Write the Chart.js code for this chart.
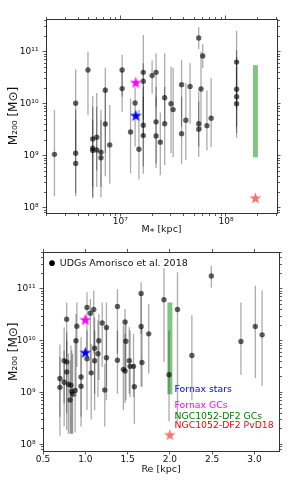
<!DOCTYPE html>
<html><head><meta charset="utf-8">
<script src="https://cdn.jsdelivr.net/npm/chart.js@4.4.1/dist/chart.umd.min.js"></script>
<style>
html,body{margin:0;padding:0;background:#fff;}
#wrap{position:relative;width:299px;height:486px;background:#fff;}
canvas{display:block;}
</style></head><body>
<div id="wrap">
<canvas id="top" width="299" height="243"></canvas>
<canvas id="bot" width="299" height="243"></canvas>
</div>
<script>
// ---------------- DATA ----------------
// Top panel: UDGs, stellar mass vs M200 (value, upper and lower end of the error bar)
const topMstar = [2.38e6, 3.78e6, 3.78e6, 3.78e6, 4.94e6, 5.48e6, 5.48e6, 5.48e6, 5.98e6, 5.98e6, 6.56e6, 6.56e6, 7.21e6, 7.21e6, 7.94e6, 1.04e7, 1.04e7, 1.25e7, 1.38e7, 1.50e7, 1.65e7, 1.65e7, 1.65e7, 1.65e7, 2.0e7, 2.18e7, 2.18e7, 2.18e7, 2.39e7, 2.63e7, 2.63e7, 3.02e7, 3.16e7, 3.8e7, 3.8e7, 4.17e7, 4.57e7, 5.52e7, 6.03e7, 5.8e7, 5.52e7, 5.52e7, 6.6e7, 7.24e7, 1.26e8, 1.26e8, 1.26e8, 1.26e8];
const topM200 = [1.06e9, 1.02e10, 1.11e9, 7.1e8, 4.45e10, 2.1e9, 1.39e9, 1.26e9, 2.26e9, 1.29e9, 1.16e9, 9.1e8, 1.81e10, 4.07e9, 1.61e9, 4.45e10, 1.95e10, 2.86e9, 1.03e10, 1.33e9, 4.0e10, 2.7e10, 3.85e9, 2.43e9, 3.47e10, 4.0e10, 4.47e9, 2.4e9, 1.82e9, 1.30e10, 4.12e9, 1.0e10, 7.7e9, 2.32e10, 2.65e9, 4.8e9, 2.14e10, 1.83e11, 8.3e10, 1.92e10, 4.12e9, 3.24e9, 3.78e9, 5.25e9, 6.3e10, 1.89e10, 1.36e10, 1.0e10];
const topHi = [7.6e9, 4.6e10, 7.6e9, 4.9e9, 1.0e11, 1.4e10, 8.7e9, 4.9e9, 1.6e10, 8.7e9, 7.6e9, 4.9e9, 4.9e10, 2.1e10, 9.4e9, 8.7e10, 4.4e10, 1.26e10, 2.1e10, 7.6e9, 2.1e11, 6.0e10, 2.1e10, 1.36e10, 6.8e10, 9.3e10, 2.1e10, 1.36e10, 6.8e9, 9.3e10, 2.1e10, 5.2e10, 4.9e10, 6.9e10, 1.36e10, 2.5e10, 6.0e10, 2.95e11, 1.4e11, 1.0e11, 1.7e10, 1.1e10, 1.8e10, 3.1e10, 2.5e11, 1.07e11, 8.0e10, 5.1e10];
const topLo = [1.66e8, 1.12e9, 1.66e8, 1.9e8, 6.0e9, 2.5e8, 1.5e8, 1.6e8, 5.2e8, 2.5e8, 2.5e8, 1.58e8, 1.12e9, 4.0e8, 2.9e8, 1.36e10, 7.0e9, 4.6e8, 1.5e9, 3.5e8, 4.9e9, 2.3e9, 4.5e8, 6.2e8, 1.55e10, 8.7e9, 5.8e8, 7.1e8, 4.2e8, 4.2e9, 6.6e8, 1.12e9, 9.3e8, 3.6e9, 6.9e8, 8.3e8, 4.1e9, 1.12e11, 4.8e10, 3.1e9, 1.48e9, 9.5e8, 1.26e9, 1.45e9, 7.6e9, 3.6e9, 2.7e9, 2.2e9];

// Bottom panel: UDGs, effective radius vs M200
const botRe = [0.78, 0.75, 0.78, 0.78, 0.70, 0.70, 0.75, 0.80, 0.83, 0.88, 0.84, 0.85, 0.82, 0.90, 0.89, 0.95, 0.95, 1.02, 1.06, 1.10, 1.02, 1.07, 1.11, 1.11, 1.16, 1.15, 1.20, 1.25, 1.25, 1.23, 1.38, 1.38, 1.47, 1.48, 1.45, 1.47, 1.52, 1.53, 1.57, 1.58, 1.66, 1.66, 1.67, 1.75, 1.93, 1.99, 2.09, 2.49, 2.26, 2.84, 3.01, 3.09];
const botM200 = [2.6e10, 4.1e9, 3.9e9, 2.5e9, 1.86e9, 1.26e9, 1.58e9, 1.45e9, 1.38e9, 1.1e9, 1.05e9, 9.3e8, 7.2e8, 1.9e10, 1.0e10, 2.0e9, 1.32e9, 4.4e10, 3.4e10, 4.0e10, 4.5e9, 2.4e9, 7.2e9, 4.1e9, 1.0e10, 5.6e9, 2.2e10, 1.8e10, 4.7e9, 1.12e9, 4.6e10, 4.2e9, 2.3e10, 9.8e9, 2.8e9, 2.6e9, 4.1e9, 3.2e9, 3.2e9, 1.29e9, 8.2e10, 1.88e10, 3.8e9, 1.36e10, 6.2e10, 2.2e9, 4.0e10, 1.78e11, 5.2e9, 9.7e9, 1.88e10, 1.3e10];
const botHi = [5.5e10, 1.8e10, 1.46e10, 1.0e10, 8.5e9, 4.8e9, 6.5e9, 5.6e9, 8.1e9, 1.09e10, 6.5e9, 5.6e9, 4.2e9, 5.5e10, 3.3e10, 1.17e10, 5.6e9, 8.6e10, 6.4e10, 9.3e10, 1.58e10, 8.7e9, 2.8e10, 1.58e10, 3.3e10, 2.5e10, 5.5e10, 5.5e10, 1.83e10, 3.6e9, 1.0e11, 1.58e10, 4.1e10, 2.5e10, 2.0e10, 1.36e10, 1.83e10, 1.58e10, 1.36e10, 3.6e9, 1.34e11, 8.0e10, 1.83e10, 5.1e10, 2.5e11, 1.58e10, 2.1e11, 2.8e11, 3.1e10, 5.5e10, 1.15e11, 9.3e10];
const botLo = [4.8e9, 6.2e8, 4.0e8, 1.9e8, 3.4e8, 1.46e8, 2.2e8, 1.6e8, 1.6e8, 1.7e8, 1.6e8, 1.6e8, 1.6e8, 3.1e9, 8.2e8, 3.4e8, 2.2e8, 5.6e9, 2.7e9, 5.6e9, 4.6e8, 3.0e8, 9.5e8, 4.6e8, 1.74e9, 8.2e8, 3.1e9, 1.29e9, 7.1e8, 2.2e8, 5.6e9, 9.5e8, 2.7e9, 7.1e8, 4.6e8, 6.2e8, 9.5e8, 8.2e8, 8.2e8, 2.5e8, 1.36e10, 1.29e9, 1.29e9, 2.3e9, 3.9e9, 2.8e8, 2.8e8, 1.07e11, 7.1e8, 2.2e9, 1.9e9, 1.35e9];

// Reference objects
const fornaxMstar = 1.4e7, fornaxRe = 1.0;
const fornaxStarsM200 = 5.8e9;
const fornaxGCsM200 = 2.5e10;
const df2Mstar = 1.9e8, df2Re = 2.0;
const df2GCsRange = [9.3e8, 5.5e10];
const df2PvD18M200 = 1.5e8;

// Tick values / labels
const topXTickValues = [1e7, 1e8];
const topXTickLabels = ['10\u2077', '10\u2078'];
const yTickValues = [1e8, 1e9, 1e10, 1e11];
const yTickLabels = ['10\u2078', '10\u2079', '10\u00b9\u2070', '10\u00b9\u00b9'];
const botXTickValues = [0.5, 1.0, 1.5, 2.0, 2.5, 3.0];
const botXTickLabels = ['0.5', '1.0', '1.5', '2.0', '2.5', '3.0'];

const udgLabel = 'UDGs Amorisco et al. 2018';
const noteTexts = ['Fornax stars', 'Fornax GCs', 'NGC1052-DF2 GCs', 'NGC1052-DF2 PvD18'];
const noteColors = ['#0000ff', '#ff00ff', '#008000', '#ff0000'];
const noteAnchorRe = 2.055;
const noteAnchorM200 = [1.14e9, 5.7e8, 3.5e8, 2.35e8];

// ---------------- HELPERS ----------------
const FONT = 'DejaVu Sans';
const AXIS = '#333';
const TXT = '#111';

function starImage(fill, R) {
  const s = Math.ceil(R * 2 + 4);
  const c = document.createElement('canvas');
  c.width = s; c.height = s;
  const g = c.getContext('2d');
  const cx = s / 2, cy = s / 2;
  g.beginPath();
  for (let i = 0; i < 10; i++) {
    const r = i % 2 === 0 ? R : R * 0.39;
    const a = -Math.PI / 2 + i * Math.PI / 5;
    g.lineTo(cx + r * Math.cos(a), cy + r * Math.sin(a));
  }
  g.closePath();
  g.fillStyle = fill; g.fill();
  return c;
}
const starBlue = starImage('#0000ff', 6.2);
const starMag = starImage('#ff00ff', 6.2);
const starRed = starImage('rgba(240,50,50,0.68)', 6.2);

function logTickList(min, max) {
  const t = [];
  for (let e = Math.floor(Math.log10(min)); e <= Math.ceil(Math.log10(max)); e++) {
    for (let m = 1; m <= 9; m++) {
      const v = m * Math.pow(10, e);
      if (v >= min && v <= max) t.push(v);
    }
  }
  return t;
}
const isLogMinor = v => Math.abs(Math.log10(v) - Math.round(Math.log10(v))) > 1e-6;
const never = () => false;

function gridOpts(pos, isMinor) {
  const outerStart = (pos === 'left' || pos === 'top');
  return {
    display: true, drawOnChartArea: false, drawTicks: true,
    tickLength: 3.5, tickWidth: 0.8, tickColor: AXIS,
    tickBorderDash: c => (c.tick && isMinor(c.tick.value)) ? (outerStart ? [2, 1.5] : [2, 10]) : [],
    tickBorderDashOffset: c => (c.tick && isMinor(c.tick.value) && outerStart) ? 2 : 0
  };
}

function makeAxis(o) {
  const horiz = (o.pos === 'top' || o.pos === 'bottom');
  return {
    type: o.type, position: o.pos, axis: horiz ? 'x' : 'y',
    min: o.min, max: o.max,
    afterBuildTicks: s => { s.ticks = o.ticks.map(v => ({ value: v })); },
    afterFit: s => { if (horiz) s.height = o.size; else s.width = o.size; },
    grid: gridOpts(o.pos, o.isMinor),
    border: { display: true, color: AXIS, width: 1 },
    ticks: {
      autoSkip: false, maxRotation: 0, minRotation: 0,
      padding: horiz ? 0 : 4, color: TXT,
      font: { family: FONT, size: 9 },
      callback: v => {
        if (!o.labelVals) return '';
        const k = o.labelVals.findIndex(L => Math.abs(L - v) <= 1e-9 * Math.abs(L));
        return k >= 0 ? o.labelTexts[k] : '';
      }
    },
    title: o.title ? {
      display: true, text: o.title, color: TXT,
      font: { family: FONT, size: o.titleSize || 9.5 },
      padding: o.titlePad
    } : { display: false }
  };
}

function errData(xs, lo, hi) {
  const d = [];
  xs.forEach((x, i) => { d.push({ x, y: lo[i] }, { x, y: hi[i] }, { x, y: null }); });
  return d;
}

function datasets(xs, ys, lo, hi, fx, df2x) {
  return [
    { label: 'Fornax GCs', data: [{ x: fx, y: fornaxGCsM200 }], pointStyle: starMag, pointRadius: 6, xAxisID: 'x', yAxisID: 'y' },
    { label: 'Fornax stars', data: [{ x: fx, y: fornaxStarsM200 }], pointStyle: starBlue, pointRadius: 6, xAxisID: 'x', yAxisID: 'y' },
    { label: 'NGC1052-DF2 PvD18', data: [{ x: df2x, y: df2PvD18M200 }], pointStyle: starRed, pointRadius: 6, xAxisID: 'x', yAxisID: 'y' },
    { label: udgLabel, data: xs.map((x, i) => ({ x, y: ys[i] })), pointRadius: 2.7, pointBackgroundColor: 'rgba(0,0,0,0.62)', backgroundColor: 'rgba(0,0,0,0.62)', pointBorderWidth: 0, borderWidth: 0, xAxisID: 'x', yAxisID: 'y' },
    { label: 'err', data: errData(xs, lo, hi), showLine: true, spanGaps: false, segment: {}, borderColor: 'rgba(0,0,0,0.33)', borderWidth: 1.3, pointRadius: 0, pointHoverRadius: 0, xAxisID: 'x', yAxisID: 'y' },
    { label: 'NGC1052-DF2 GCs', data: [{ x: df2x, y: df2GCsRange[0] }, { x: df2x, y: df2GCsRange[1] }], showLine: true, borderColor: 'rgba(44,160,44,0.6)', borderWidth: 5, borderCapStyle: 'butt', pointRadius: 0, pointHoverRadius: 0, xAxisID: 'x', yAxisID: 'y' }
  ];
}

const notesPlugin = {
  id: 'notes',
  afterLayout(chart) {
    // keep the legend inside the plot area, anchored at its top-left corner
    const lg = chart.legend;
    if (!lg) return;
    const dy = chart.chartArea.top - lg.top;
    lg.top += dy; lg.bottom += dy;
  },
  afterDatasetsDraw(chart) {
    const { ctx, scales } = chart;
    ctx.save();
    ctx.font = '9.3px "DejaVu Sans"';
    ctx.textAlign = 'left'; ctx.textBaseline = 'middle';
    noteTexts.forEach((t, i) => {
      ctx.fillStyle = noteColors[i];
      ctx.fillText(t, scales.x.getPixelForValue(noteAnchorRe), scales.y.getPixelForValue(noteAnchorM200[i]));
    });
    ctx.restore();
  }
};

const common = {
  responsive: false, animation: false, devicePixelRatio: 1, events: [],
  layout: { padding: 0 }
};

const yTitle = 'M\u2082\u2080\u2080 [M\u2299]';

// ---------------- TOP CHART ----------------
const tXmin = 1.98e6, tXmax = 3.04e8, tYmin = 7.9e7, tYmax = 4.25e11;
new Chart(document.getElementById('top'), {
  type: 'scatter',
  data: { datasets: datasets(topMstar, topM200, topLo, topHi, fornaxMstar, df2Mstar) },
  options: Object.assign({}, common, {
    plugins: { legend: { display: false }, tooltip: { enabled: false } },
    scales: {
      x: makeAxis({ type: 'logarithmic', pos: 'bottom', min: tXmin, max: tXmax, ticks: logTickList(tXmin, tXmax), isMinor: isLogMinor, labelVals: topXTickValues, labelTexts: topXTickLabels, size: 30, title: 'M\u204e [kpc]', titlePad: { top: 0, bottom: 7.6 } }),
      x2: makeAxis({ type: 'logarithmic', pos: 'top', min: tXmin, max: tXmax, ticks: logTickList(tXmin, tXmax), isMinor: isLogMinor, size: 19 }),
      y: makeAxis({ type: 'logarithmic', pos: 'left', min: tYmin, max: tYmax, ticks: logTickList(tYmin, tYmax), isMinor: isLogMinor, labelVals: yTickValues, labelTexts: yTickLabels, size: 46, title: yTitle, titleSize: 12, titlePad: { top: 6.3, bottom: 0 } }),
      y2: makeAxis({ type: 'logarithmic', pos: 'right', min: tYmin, max: tYmax, ticks: logTickList(tYmin, tYmax), isMinor: isLogMinor, size: 22 })
    }
  })
});

// ---------------- BOTTOM CHART ----------------
const bXmin = 0.5, bXmax = 3.29, bYmin = 7.43e7, bYmax = 5.08e11;
new Chart(document.getElementById('bot'), {
  type: 'scatter',
  data: { datasets: datasets(botRe, botM200, botLo, botHi, fornaxRe, df2Re) },
  options: Object.assign({}, common, {
    plugins: {
      tooltip: { enabled: false },
      legend: {
        display: true, position: 'chartArea', align: 'start',
        labels: {
          usePointStyle: true, boxWidth: 6, boxHeight: 4, padding: 6, color: TXT,
          font: { family: FONT, size: 9.5 },
          generateLabels: () => [{ text: udgLabel, fillStyle: '#000', strokeStyle: '#000', lineWidth: 0, pointStyle: 'circle', hidden: false, datasetIndex: 3, fontColor: TXT }]
        }
      }
    },
    scales: {
      x: makeAxis({ type: 'linear', pos: 'bottom', min: bXmin, max: bXmax, ticks: botXTickValues, isMinor: never, labelVals: botXTickValues, labelTexts: botXTickLabels, size: 35, title: 'Re [kpc]', titlePad: { top: 0, bottom: 10.6 } }),
      x2: makeAxis({ type: 'linear', pos: 'top', min: bXmin, max: bXmax, ticks: botXTickValues, isMinor: never, size: 9 }),
      y: makeAxis({ type: 'logarithmic', pos: 'left', min: bYmin, max: bYmax, ticks: logTickList(bYmin, bYmax), isMinor: isLogMinor, labelVals: yTickValues, labelTexts: yTickLabels, size: 43, title: yTitle, titleSize: 12, titlePad: { top: 6.3, bottom: 0 } }),
      y2: makeAxis({ type: 'logarithmic', pos: 'right', min: bYmin, max: bYmax, ticks: logTickList(bYmin, bYmax), isMinor: isLogMinor, size: 20 })
    }
  }),
  plugins: [notesPlugin]
});
</script>
</body></html>
